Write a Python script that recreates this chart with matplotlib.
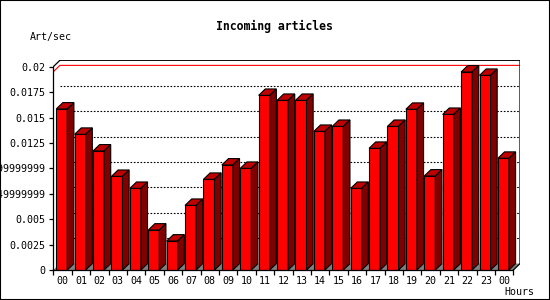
import matplotlib
matplotlib.use('Agg')
import matplotlib.pyplot as plt
from matplotlib.patches import Polygon, Rectangle

plt.rcParams.update({
    'font.family': ['DejaVu Sans Mono'],
    'font.size': 7.2,
})

# data
hours = ['00', '01', '02', '03', '04', '05', '06', '07', '08', '09', '10', '11',
         '12', '13', '14', '15', '16', '17', '18', '19', '20', '21', '22', '23', '00']
rates = [0.01584, 0.01335, 0.01171, 0.00921, 0.00803, 0.00393, 0.00285, 0.00636,
         0.00892, 0.01033, 0.01000, 0.01718, 0.01669, 0.01669, 0.01364, 0.01413,
         0.00803, 0.01197, 0.01413, 0.01581, 0.00925, 0.01531, 0.01948, 0.01915,
         0.01099]
ytick_vals = [0, 0.0025, 0.005, 0.0075, 0.01, 0.0125, 0.015, 0.0175, 0.02]
ytick_text = ['0', '0.0025', '0.005', '0.00749999999', '0.00999999999',
              '0.0125', '0.015', '0.0175', '0.02']
ref_line = 0.0195

C = {
    'front': '#FF0000',
    'top': '#C00000',
    'side': '#800000',
    'floor': '#808080',
    'edge': '#000000',
}

YMAX = 0.02
DX = 0.36      # depth offset in slot units
DY = 0.00063   # depth offset in value units
BAR_OFF = 0.16
BAR_W = 0.6
n = len(rates)

fig = plt.figure(figsize=(5.5, 3), dpi=100)
ax = fig.add_axes([53.3 / 550, 0.1, (520 - 53.3) / 550, 0.699])
ax.set_xlim(0, n + DX)
ax.set_ylim(0, YMAX + DY)
ax.patch.set_alpha(0)

# back wall grid
for v in ytick_vals[1:-1]:
    ax.plot([DX, n + DX], [v + DY, v + DY], color='black', lw=0.8,
            dashes=(1.5, 1.5), zorder=1)
ax.plot([0, DX, n + DX], [ref_line, ref_line + DY, ref_line + DY],
        color='red', lw=0.8, zorder=1)

# floor
ax.add_patch(Polygon([(0, 0), (n, 0), (n + DX, DY), (DX, DY)],
                     closed=True, facecolor=C['floor'], edgecolor='none', zorder=2))

# frame
ax.plot([0, DX, n + DX, n + DX, n], [YMAX, YMAX + DY, YMAX + DY, DY, 0],
        color='black', lw=0.9, zorder=2)

# bars
for i, v in enumerate(rates):
    x0 = i + BAR_OFF
    x1 = x0 + BAR_W
    ax.add_patch(Rectangle((x0, 0), BAR_W, v, facecolor=C['front'],
                           edgecolor=C['edge'], lw=0.8, zorder=3))
    ax.add_patch(Polygon([(x0, v), (x1, v), (x1 + DX, v + DY), (x0 + DX, v + DY)],
                         closed=True, facecolor=C['top'], edgecolor=C['edge'],
                         lw=0.8, zorder=3))
    ax.add_patch(Polygon([(x1, 0), (x1 + DX, DY), (x1 + DX, v + DY), (x1, v)],
                         closed=True, facecolor=C['side'], edgecolor=C['edge'],
                         lw=0.8, zorder=3))

# axes
for s in ['top', 'right']:
    ax.spines[s].set_visible(False)
ax.spines['left'].set_bounds(0, YMAX)
ax.spines['bottom'].set_bounds(0, n)
ax.spines['left'].set_linewidth(0.9)
ax.spines['bottom'].set_linewidth(0.9)
ax.spines['left'].set_zorder(4)
ax.spines['bottom'].set_zorder(4)

ax.set_yticks(ytick_vals)
ax.set_yticklabels(ytick_text)
ax.tick_params(axis='y', direction='out', length=3, width=0.9, pad=3)

ax.set_xticks(range(n + 1))
ax.set_xticklabels([])
ax.tick_params(axis='x', which='major', direction='out', length=3.6, width=0.9)
ax.set_xticks([i + 0.5 for i in range(n)], minor=True)
ax.set_xticklabels(hours, minor=True)
ax.tick_params(axis='x', which='minor', length=0, pad=4)

fig.text(274 / 550, 1 - 26.7 / 300, 'Incoming articles', ha='center', va='center',
         fontsize=8.3, fontweight='bold')
fig.text(30 / 550, 1 - 36.7 / 300, 'Art/sec', ha='left', va='center')
fig.text(504 / 550, 1 - 291.7 / 300, 'Hours', ha='left', va='center')

fig.patches.append(Rectangle((0, 0), 1, 1, transform=fig.transFigure, fill=False,
                             edgecolor='black', lw=1.5))

fig.savefig('out.png', dpi=100, facecolor='white')
